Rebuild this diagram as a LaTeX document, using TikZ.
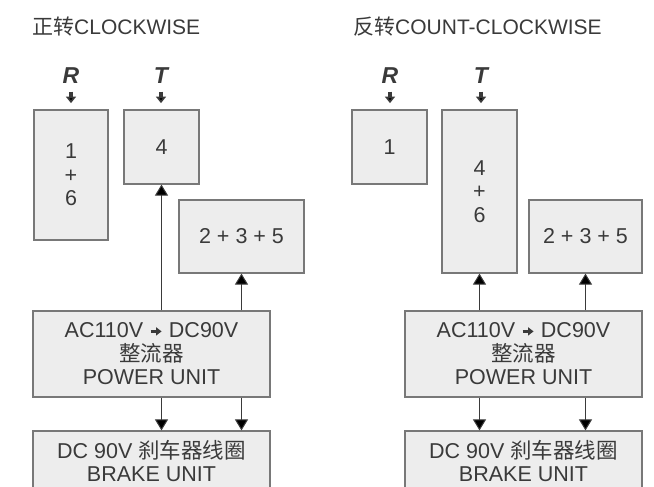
\documentclass[tikz,border=0pt]{standalone}
\usepackage{fontspec}
\setmainfont{Liberation Sans}
\newfontfamily\cjk{Noto Sans CJK SC}
\usetikzlibrary{arrows.meta}
\definecolor{boxfill}{HTML}{EDEDED}
\definecolor{boxline}{HTML}{787878}
\definecolor{ink}{HTML}{3A3A3A}
\newcommand\txtarrow{\tikz[baseline=-6.5pt]\draw[ink,line width=2.8pt,-{Triangle[length=5.5pt,width=8pt]}] (0pt,0pt) -- (11pt,0pt);}
\begin{document}
\begin{tikzpicture}[x=1pt,y=-1pt,
  box/.style={draw=boxline, fill=boxfill, line width=1.2pt, inner sep=0pt,
    align=center, text=ink, font=\fontsize{21.5}{23.5}\selectfont},
  phase/.style={inner sep=0pt, text=ink, font=\fontsize{23}{23}\selectfont\bfseries\itshape},
  title/.style={inner sep=0pt, anchor=west, text=ink, font=\fontsize{21}{21}\selectfont},
  conn/.style={draw=ink, line width=1pt, -{Triangle[length=11pt,width=13pt]}},
  fat/.style={draw=ink, line width=3.8pt, -{Triangle[length=6.5pt,width=10pt]}}]
\useasboundingbox (0,0) rectangle (654,487);
\clip (0,0) rectangle (654,487);

% ---------- left: clockwise ----------
\node[title] (tl) at (32,27) {{\cjk 正转}CLOCKWISE};
\node[phase] (Rl) at (71,76) {R};
\node[phase] (Tl) at (161,76) {T};
\node[box, minimum width=74pt, minimum height=130pt] (b16) at (71,175) {1\\+\\6};
\node[box, minimum width=75pt, minimum height=74pt] (b4) at (161.5,147) {4};
\node[box, minimum width=125pt, minimum height=73pt] (b235) at (241.5,236.5) {2 + 3 + 5};
\node[box, minimum width=237pt, minimum height=86pt] (pw) at (151.5,354)
  {AC110V \txtarrow{} DC90V\\{\cjk 整流器}\\POWER UNIT};
\node[box, minimum width=237pt, minimum height=60pt] (br) at (151.5,461)
  {DC 90V {\cjk 刹车器线圈}\\BRAKE UNIT};

\draw[fat] ([yshift=-7.5pt]Rl.south) -- ++(0,11.5);
\draw[fat] ([yshift=-7.5pt]Tl.south) -- ++(0,11.5);
\draw[conn] (b4.south |- pw.north) -- (b4.south);
\draw[conn] (b235.south |- pw.north) -- (b235.south);
\draw[conn] (b4.south |- pw.south) -- (b4.south |- br.north);
\draw[conn] (b235.south |- pw.south) -- (b235.south |- br.north);

% ---------- right: counter-clockwise ----------
\node[title] (tr) at (353,27) {{\cjk 反转}COUNT-CLOCKWISE};
\node[phase] (Rr) at (390,76) {R};
\node[phase] (Tr) at (481,76) {T};
\node[box, minimum width=75pt, minimum height=74pt] (r1) at (389.5,147) {1};
\node[box, minimum width=75pt, minimum height=163pt] (r46) at (479.5,191.5) {4\\+\\6};
\node[box, minimum width=113pt, minimum height=73pt] (r235) at (585.5,236.5) {2 + 3 + 5};
\node[box, minimum width=237pt, minimum height=86pt] (rpw) at (523.5,354)
  {AC110V \txtarrow{} DC90V\\{\cjk 整流器}\\POWER UNIT};
\node[box, minimum width=237pt, minimum height=60pt] (rbr) at (523.5,461)
  {DC 90V {\cjk 刹车器线圈}\\BRAKE UNIT};

\draw[fat] ([yshift=-7.5pt]Rr.south) -- ++(0,11.5);
\draw[fat] ([yshift=-7.5pt]Tr.south) -- ++(0,11.5);
\draw[conn] (r46.south |- rpw.north) -- (r46.south);
\draw[conn] (r235.south |- rpw.north) -- (r235.south);
\draw[conn] (r46.south |- rpw.south) -- (r46.south |- rbr.north);
\draw[conn] (r235.south |- rpw.south) -- (r235.south |- rbr.north);
\end{tikzpicture}
\end{document}
